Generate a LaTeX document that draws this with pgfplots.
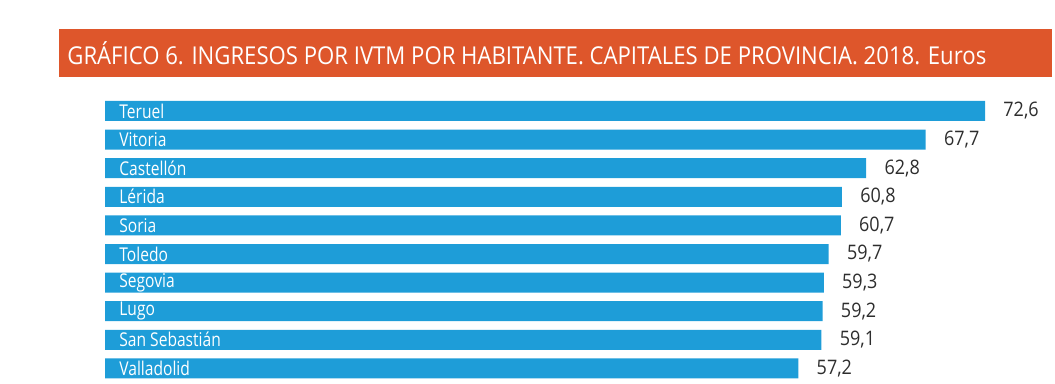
\documentclass[border=0pt]{standalone}
\usepackage{pgfplots}
\pgfplotsset{compat=1.18}
\usepackage{fontspec}
\setmainfont{Open Sans}
\newfontfamily\cond[FakeStretch=0.82]{Open Sans}
\newfontfamily\condt[FakeStretch=0.9]{Open Sans}
\definecolor{barblue}{RGB}{30,157,216}
\definecolor{banner}{RGB}{222,86,43}
\definecolor{valtext}{RGB}{45,45,45}
\pgfplotstableread{
idx val
0 72.6
1 67.7
2 62.8
3 60.8
4 60.7
5 59.7
6 59.3
7 59.2
8 59.1
9 57.2
}\datatable
\begin{document}
\begin{tikzpicture}
\path[use as bounding box] (0,0) rectangle (527.5pt,192pt);
\fill[banner] (29.5pt,177.5pt) rectangle (526pt,153.5pt);
\node[anchor=west, inner sep=0, text=white, font=\condt\fontsize{12.3pt}{14pt}\selectfont] at (33.5pt,165.5pt)
  {GRÁFICO 6. INGRESOS POR IVTM POR HABITANTE. CAPITALES DE PROVINCIA. 2018. Euros};
\begin{axis}[
  at={(52.5pt,143.65pt)}, anchor=north west,
  scale only axis, width=440pt, height=143pt,
  xmin=0, xmax=72.6, ymin=-0.5, ymax=9.5, y dir=reverse,
  xbar, bar width=10pt, bar shift=0pt,
  axis on top,
  axis line style={draw=none}, major tick length=0pt,
  xtick=\empty,
  ytick={0,...,9},
  yticklabels={Teruel,Vitoria,Castellón,Lérida,Soria,Toledo,Segovia,Lugo,San Sebastián,Valladolid},
  yticklabel style={anchor=west, inner sep=0pt, xshift=7pt, text=white, font=\cond\fontsize{9.5pt}{11pt}\selectfont},
  clip=false,
  nodes near coords,
  nodes near coords style={anchor=west, inner sep=0pt, xshift=9pt, text=valtext, font=\condt\fontsize{10pt}{12pt}\selectfont,
    /pgf/number format/.cd, fixed, precision=1, fixed zerofill, use comma, assume math mode=true},
]
\addplot[fill=barblue, draw=none] table[x=val, y=idx] {\datatable};
\end{axis}
\end{tikzpicture}
\end{document}
